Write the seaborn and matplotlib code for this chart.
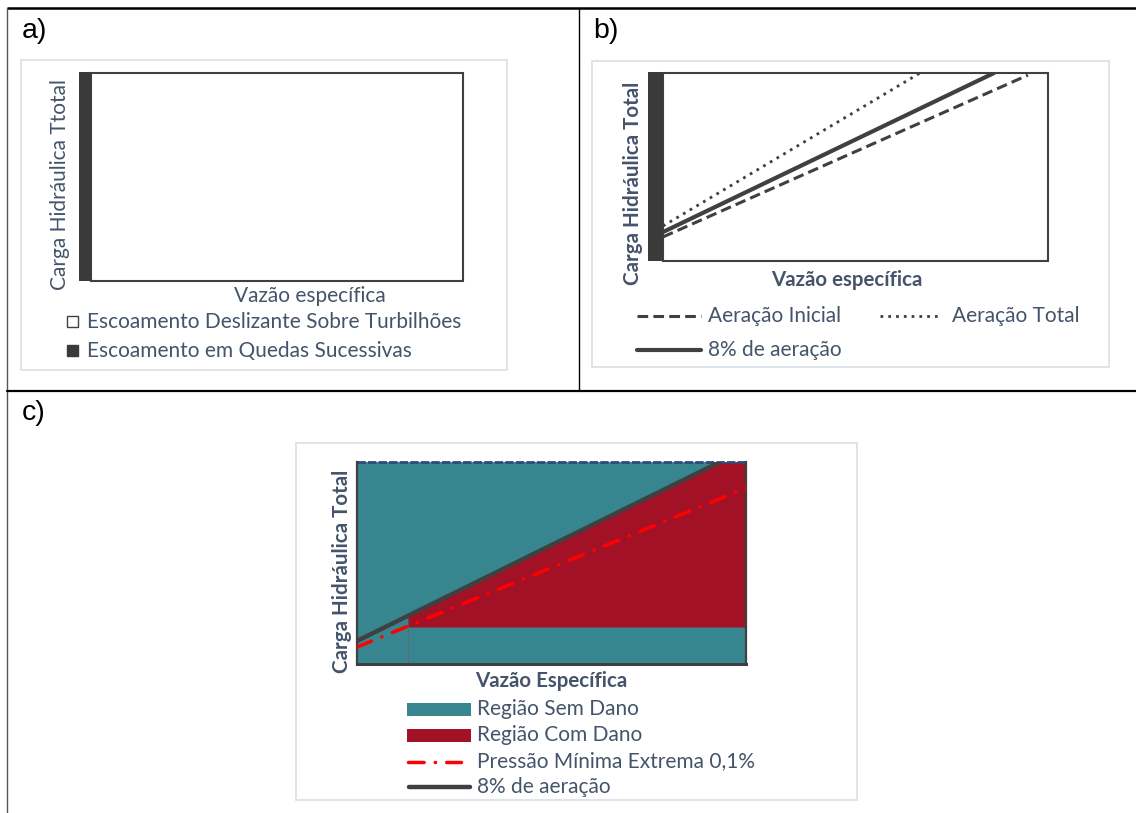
import matplotlib
matplotlib.use("Agg")
import matplotlib.pyplot as plt
import seaborn as sns
from matplotlib.patches import Rectangle

sns.set_theme(style="white")
plt.rcParams["font.family"] = ["Lato", "DejaVu Sans"]

W, H = 1136, 813
TEXT = "#44546A"
DARK = "#404040"
BAR_DARK = "#3A3A3A"
TEAL = "#37868F"
CRIMSON = "#A31126"
RED = "#FF0000"
NAVY = "#2E4A7D"
BOX = "#DCE1E8"
FS = 15.0      # regular label size
FS_B = 14.8    # bold axis-title size

# ---- a) flow regimes over specific discharge (arbitrary units 0-10) ----
regime_names = ["Escoamento Deslizante Sobre Turbilhões", "Escoamento em Quedas Sucessivas"]
regime_colors = ["white", BAR_DARK]
a_left = [0.31, 0.0]
a_width = [9.69, 0.31]
a_height = [10.0, 10.05]

# ---- b) aeration curves ----
b_left = [0.375, 0.0]
b_width = [9.625, 0.375]
b_height = [10.0, 10.05]
inicial_x = [0.375, 9.5]
inicial_y = [1.28, 9.89]
total_x = [0.375, 6.8]
total_y = [1.86, 10.0]
oito_x = [0.375, 8.65]
oito_y = [1.54, 10.0]

# ---- c) damage map ----
c_x_range = [0.0, 10.0]
c_y_top = [10.0, 10.0]
dano_x = [1.31, 9.33, 10.0]
dano_low = [1.83, 1.83, 1.83]
dano_high = [2.38, 10.0, 10.0]
c_aer_x = [0.0, 9.33]
c_aer_y = [1.14, 10.0]
c_pmin_x = [0.0, 10.0]
c_pmin_y = [0.84, 8.71]

fig = plt.figure(figsize=(W / 100, H / 100), dpi=100)
fig.patch.set_facecolor("white")

# background layer in pixel coordinates for frames, labels and legends
bg = fig.add_axes([0, 0, 1, 1], zorder=0)
bg.set_xlim(0, W)
bg.set_ylim(H, 0)
bg.axis("off")


def axes_px(x0, y0, x1, y1):
    ax = fig.add_axes([x0 / W, 1 - y1 / H, (x1 - x0) / W, (y1 - y0) / H], zorder=2)
    ax.set_xlim(0, 10)
    ax.set_ylim(0, 10)
    ax.set_xticks([])
    ax.set_yticks([])
    ax.set_xlabel("")
    ax.set_ylabel("")
    return ax


# table grid
bg.plot([7, W], [8, 8], color="black", lw=1.8, solid_capstyle="butt")
bg.plot([7, 7], [8, H], color="#555555", lw=1.0)
bg.plot([579, 579], [8, 391], color="black", lw=1.0)
bg.plot([7, W], [391, 391], color="black", lw=1.6)

# chart boxes
for (x0, y0, x1, y1) in [(21, 60, 507, 370), (592, 61, 1109, 367), (296, 443, 857, 800)]:
    bg.add_patch(Rectangle((x0, y0), x1 - x0, y1 - y0, fill=False, ec=BOX, lw=1.3))

# panel tags
for tag, x, y in [("a)", 22, 31), ("b)", 593, 31), ("c)", 22, 413)]:
    bg.text(x, y, tag, family="Liberation Sans", fontsize=20.5, color="black", ha="left", va="center")

# ---------------- a) ----------------
axa = axes_px(79, 73, 463, 281)
axa.axis("off")
axa.bar(a_left, a_height, width=a_width, align="edge", color=regime_colors,
        edgecolor=[DARK, BAR_DARK], linewidth=[1.5, 0], clip_on=False)
bg.text(60, 185, "Carga Hidráulica Ttotal", rotation=90, fontsize=FS, color=TEXT,
        ha="center", va="center")
bg.text(310, 296, "Vazão específica", fontsize=FS, color=TEXT, ha="center", va="center")
for i, (name, col) in enumerate(zip(regime_names, regime_colors)):
    yc = 321.5 + 29 * i
    bg.add_patch(Rectangle((67, yc - 5.5), 11, 11, fc=col, ec=DARK if col == "white" else col, lw=1))
    bg.text(87, yc, name, fontsize=FS, color=TEXT, ha="left", va="center")

# ---------------- b) ----------------
axb = axes_px(648, 73, 1048, 261)
axb.axis("off")
axb.bar(b_left, b_height, width=b_width, align="edge", color=regime_colors,
        edgecolor=[DARK, BAR_DARK], linewidth=[1.5, 0], clip_on=False)
b_styles = {
    "Aeração Inicial": dict(lw=2.2, linestyle=(0, (3.5, 1.7))),
    "Aeração Total": dict(lw=2.0, linestyle=(0, (1.0, 1.8))),
    "8% de aeração": dict(lw=3.0, linestyle="-"),
}
for name, xs, ys in [("Aeração Inicial", inicial_x, inicial_y),
                     ("Aeração Total", total_x, total_y),
                     ("8% de aeração", oito_x, oito_y)]:
    sns.lineplot(x=xs, y=ys, ax=axb, color=DARK, legend=False, **b_styles[name])
axb.set_xlim(0, 10)
axb.set_ylim(0, 10)
bg.text(633, 183, "Carga Hidráulica Total", rotation=90, fontsize=FS_B, fontweight="bold",
        color=TEXT, ha="center", va="center")
bg.text(847, 280, "Vazão específica", fontsize=FS_B, fontweight="bold", color=TEXT,
        ha="center", va="center")
for name, x0, x1, tx, yc in [("Aeração Inicial", 637, 701, 708, 316),
                             ("Aeração Total", 880, 942, 952, 316),
                             ("8% de aeração", 637, 701, 708, 350)]:
    bg.plot([x0, x1], [yc, yc], color=DARK, **b_styles[name])
    bg.text(tx, yc, name, fontsize=FS, color=TEXT, ha="left", va="center")

# ---------------- c) ----------------
axc = axes_px(357, 462, 746, 664)
axc.fill_between(c_x_range, 0, c_y_top, color=TEAL, lw=0, zorder=1)
axc.fill_between(dano_x, dano_low, dano_high, color=CRIMSON, lw=0, zorder=1.2)
axc.vlines(dano_x[0], 0, dano_low[0], color="#5E6B72", lw=0.8, zorder=1.3)
axc.plot(c_x_range, c_y_top, color=NAVY, lw=2.0, dashes=(3, 0.8), clip_on=False, zorder=1.5)
sns.lineplot(x=c_pmin_x, y=c_pmin_y, ax=axc, color=RED, lw=2.5, legend=False,
             linestyle=(0, (4.5, 3.2, 0.1, 3.2)), dash_capstyle="round", zorder=3)
sns.lineplot(x=c_aer_x, y=c_aer_y, ax=axc, color=DARK, lw=3.2, legend=False, zorder=4)
axc.set_xlim(0, 10)
axc.set_ylim(0, 10)
axc.set_xlabel("")
axc.set_ylabel("")
for side in ["left", "right", "bottom"]:
    axc.spines[side].set_visible(True)
    axc.spines[side].set_color(DARK)
    axc.spines[side].set_linewidth(1.6 if side != "bottom" else 2.2)
axc.spines["top"].set_visible(False)

bg.text(342, 571, "Carga Hidráulica Total", rotation=90, fontsize=FS_B, fontweight="bold",
        color=TEXT, ha="center", va="center")
bg.text(551, 681, "Vazão Específica", fontsize=FS_B, fontweight="bold", color=TEXT,
        ha="center", va="center")
bg.add_patch(Rectangle((407, 703), 64, 13, fc=TEAL, ec="none"))
bg.text(477, 709, "Região Sem Dano", fontsize=FS, color=TEXT, ha="left", va="center")
bg.add_patch(Rectangle((407, 729), 64, 13, fc=CRIMSON, ec="none"))
bg.text(477, 735, "Região Com Dano", fontsize=FS, color=TEXT, ha="left", va="center")
bg.plot([408, 461], [762, 762], color=RED, lw=2.5, linestyle=(0, (4.5, 3.2, 0.1, 3.2)),
        dash_capstyle="round")
bg.text(477, 761, "Pressão Mínima Extrema 0,1%", fontsize=FS, color=TEXT, ha="left", va="center")
bg.plot([409, 470], [787, 787], color=DARK, lw=3.2, solid_capstyle="round")
bg.text(477, 787, "8% de aeração", fontsize=FS, color=TEXT, ha="left", va="center")

fig.savefig("out.png", dpi=100, facecolor="white")
